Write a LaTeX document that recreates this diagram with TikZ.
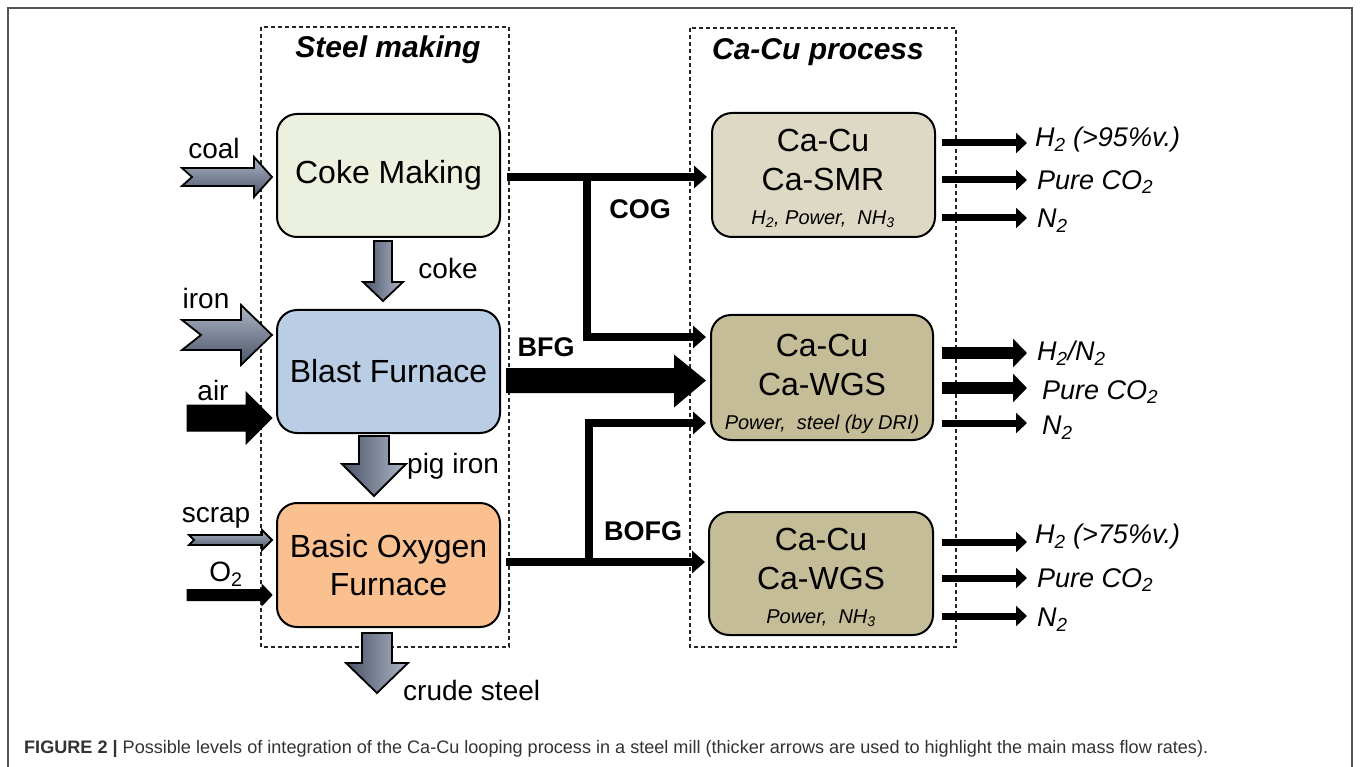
\documentclass[tikz,border=0pt]{standalone}
\usepackage{fontspec}
\usepackage{graphicx}
\setmainfont{Liberation Sans}
\usetikzlibrary{arrows.meta,calc}
\definecolor{cmfill}{HTML}{EBF1DE}
\definecolor{bffill}{HTML}{B9CDE5}
\definecolor{boffill}{HTML}{FAC090}
\definecolor{smrfill}{HTML}{DDD9C4}
\definecolor{wgsfill}{HTML}{C4BD97}
\definecolor{arrdark}{HTML}{4A5468}
\definecolor{arrlight}{HTML}{AEB6C6}
\definecolor{captext}{HTML}{333333}
\definecolor{framegray}{HTML}{555555}
% horizontal chevron arrow: style, tip, total length, notch, head length, half shaft, half head
\newcommand{\chevR}[7]{%
  \path[#1] ($(#2)+(-#3,-#6)$) -- ($(#2)+(-#5,-#6)$) -- ($(#2)+(-#5,-#7)$) -- (#2)
    -- ($(#2)+(-#5,#7)$) -- ($(#2)+(-#5,#6)$) -- ($(#2)+(-#3,#6)$) -- ($(#2)+(-#3+#4,0)$) -- cycle;}
% downward block arrow: style, tip, total length, head length, half shaft, half head
\newcommand{\blkdown}[6]{%
  \path[#1] ($(#2)+(-#5,-#3)$) -- ($(#2)+(#5,-#3)$) -- ($(#2)+(#5,-#4)$) -- ($(#2)+(#6,-#4)$) -- (#2)
    -- ($(#2)+(-#6,-#4)$) -- ($(#2)+(-#5,-#4)$) -- cycle;}
\tikzset{
  proc/.style={draw=black, line width=2pt, rounded corners=20pt, inner sep=0pt,
    font=\fontsize{32}{38}\selectfont, align=center},
  bigtxt/.style={font=\fontsize{32}{38}\selectfont, inner sep=0pt},
  subtxt/.style={font=\itshape\fontsize{20}{24}\selectfont, inner sep=0pt},
  lab/.style={font=\fontsize{28}{32}\selectfont, inner sep=0pt},
  gas/.style={font=\bfseries\fontsize{27}{30}\selectfont, inner sep=0pt},
  outlab/.style={font=\itshape\fontsize{27}{30}\selectfont, anchor=west, inner sep=0pt},
  ttl/.style={font=\bfseries\itshape\fontsize{30}{33}\selectfont, inner sep=0pt},
  zone/.style={draw=black!85, line width=1.2pt, dash pattern=on 4pt off 3pt},
  flow/.style={draw=black, line width=8pt, -{Triangle[length=13pt,width=22pt]}},
  outthin/.style={draw=black, line width=7pt, -{Triangle[length=11pt,width=20pt]}},
  outthick/.style={draw=black, line width=12pt, -{Triangle[length=14pt,width=28pt]}},
  hgrad/.style={draw=black, line width=1.8pt, top color=arrlight, bottom color=arrdark},
  vgrad/.style={draw=black, line width=1.8pt, left color=arrdark, right color=arrlight},
  solidarr/.style={fill=black, draw=black, line width=1pt},
}
\begin{document}
\begin{tikzpicture}[x=1pt,y=-1pt]
\useasboundingbox (0,0) rectangle (1360,767);
\fill[white] (0,0) rectangle (1360,767);
% outer frame
\draw[framegray, line width=1.5pt] (8,800) -- (8,8) -- (1352,8) -- (1352,800);

% zones
\draw[zone] (261,27) rectangle (509,647);
\draw[zone] (690,28) rectangle (956,647);
\node[ttl] (t1) at (388,50) {Steel making};
\node[ttl] (t2) at (818,52) {Ca-Cu process};

% steel making boxes
\node[proc, fill=cmfill, minimum width=223pt, minimum height=123pt] (cm) at (388.5,175.5) {Coke Making};
\node[proc, fill=bffill, minimum width=223pt, minimum height=123pt] (bf) at (388.5,371.5) {Blast Furnace};
\node[proc, fill=boffill, minimum width=223pt, minimum height=124pt] (bof) at (388.5,565) {Basic Oxygen\\Furnace};

% Ca-Cu boxes
\node[proc, fill=smrfill, minimum width=223pt, minimum height=124pt] (smr) at (823.5,175) {};
\node[proc, fill=wgsfill, minimum width=222pt, minimum height=125pt] (wgs1) at (822,377.5) {};
\node[proc, fill=wgsfill, minimum width=224pt, minimum height=123pt] (wgs2) at (821,573.5) {};

\node[bigtxt] (smrA) at (823,140) {Ca-Cu};
\node[bigtxt] (smrB) at (823,179) {Ca-SMR};
\node[subtxt] (smrC) at (823,219) {H\textsubscript{2}, Power,\ \ NH\textsubscript{3}};
\node[bigtxt] (w1A) at (822,345) {Ca-Cu};
\node[bigtxt] (w1B) at (822,384) {Ca-WGS};
\node[subtxt] (w1C) at (822,424) {Power,\ \ steel (by DRI)};
\node[bigtxt] (w2A) at (821,539) {Ca-Cu};
\node[bigtxt] (w2B) at (821,578) {Ca-WGS};
\node[subtxt] (w2C) at (821,618) {Power,\ \ NH\textsubscript{3}};

% input arrows
\coordinate (coalT) at ($(cm.west)+(-4,1.5)$);
\coordinate (ironT) at ($(bf.west)+(-4,-36.5)$);
\coordinate (airT) at ($(bf.west)+(-4,46.5)$);
\coordinate (scrapT) at ($(bof.west)+(-4,-25)$);
\coordinate (oxT) at ($(bof.west)+(-4,30)$);
\chevR{hgrad}{coalT}{90}{10}{18}{9}{20}
\chevR{hgrad}{ironT}{90}{19}{31}{15}{30}
\chevR{solidarr}{airT}{85}{0}{26}{13}{26}
\chevR{hgrad}{scrapT}{83}{5}{10}{5}{10}
\chevR{solidarr}{oxT}{85}{0}{10}{5.5}{10.5}
\node[lab] (lcoal) at (214,148) {coal};
\node[lab] (liron) at (206,298) {iron};
\node[lab] (lair) at (213,390) {air};
\node[lab] (lscrap) at (216,518) {scrap};
\node[lab] (lox) at (226,574) {O\textsubscript{2}};

% down arrows
\coordinate (cokeT) at ($(bf.north)+(-5.5,-8)$);
\coordinate (pigT) at ($(bof.north)+(-14.5,-6)$);
\coordinate (crudeT) at ($(bof.south)+(-11.5,65)$);
\blkdown{vgrad}{cokeT}{60}{19}{9}{20}
\blkdown{vgrad}{pigT}{60}{32}{15}{32}
\blkdown{vgrad}{crudeT}{60}{30}{15}{31}
\node[lab] (lcoke) at (448,268) {coke};
\node[lab, anchor=west] (lpig) at (407,466) {pig iron};
\node[lab, anchor=west] (lcrude) at (403,690) {crude steel};

% COG
\coordinate (cogS) at ($(cm.east)+(6,1.5)$);
\coordinate (cogJ) at (587,177);
\coordinate (cogL) at (587,337);
\draw[flow] (cogS) -- ($(smr.west|-cogS)+(-4,0)$);
\draw[flow] ($(cogJ)+(0,-4)$) -- (cogL) -- ($(wgs1.west|-cogL)+(-4,0)$);
\node[gas] (lcog) at (640,209) {COG};

% BFG
\coordinate (bfgS) at ($(bf.east)+(5,9)$);
\path[fill=black] ($(bfgS)+(0,-12.5)$) -- ($(bfgS)+(168,-12.5)$) -- ($(bfgS)+(168,-26)$)
  -- ($(wgs1.west|-bfgS)+(-4,0)$) -- ($(bfgS)+(168,27)$) -- ($(bfgS)+(168,12.5)$) -- ($(bfgS)+(0,12.5)$) -- cycle;
\node[gas] (lbfg) at (546,347) {BFG};

% BOFG
\coordinate (bofgS) at (506,562);
\coordinate (bofgJ) at (589,562);
\coordinate (bofgU) at (589,423);
\draw[flow] (bofgS) -- ($(wgs2.west|-bofgS)+(-3,0)$);
\draw[flow] ($(bofgJ)+(0,4)$) -- (bofgU) -- ($(wgs1.west|-bofgU)+(-4,0)$);
\node[gas] (lbofg) at (643,531) {BOFG};

% outputs: SMR
\coordinate (o1a) at (942,143); \coordinate (e1a) at (1027,143);
\coordinate (o1b) at (942,180); \coordinate (e1b) at (1027,180);
\coordinate (o1c) at (942,218); \coordinate (e1c) at (1027,218);
\draw[outthin] (o1a) -- (e1a);
\draw[outthin] (o1b) -- (e1b);
\draw[outthin] (o1c) -- (e1c);
\node[outlab] (n1a) at (1035,140) {H\textsubscript{2} (>95\%v.)};
\node[outlab] (n1b) at (1037,182) {Pure CO\textsubscript{2}};
\node[outlab] (n1c) at (1037,221) {N\textsubscript{2}};

% outputs: WGS 1
\coordinate (o2a) at (942,353); \coordinate (e2a) at (1027,353);
\coordinate (o2b) at (942,388); \coordinate (e2b) at (1027,388);
\coordinate (o2c) at (942,423); \coordinate (e2c) at (1027,423);
\draw[outthick] (o2a) -- (e2a);
\draw[outthick] (o2b) -- (e2b);
\draw[outthin] (o2c) -- (e2c);
\node[outlab] (n2a) at (1037,353) {H\textsubscript{2}/N\textsubscript{2}};
\node[outlab] (n2b) at (1042,392) {Pure CO\textsubscript{2}};
\node[outlab] (n2c) at (1042,428) {N\textsubscript{2}};

% outputs: WGS 2
\coordinate (o3a) at (942,542); \coordinate (e3a) at (1027,542);
\coordinate (o3b) at (942,578); \coordinate (e3b) at (1027,578);
\coordinate (o3c) at (942,616); \coordinate (e3c) at (1027,616);
\draw[outthin] (o3a) -- (e3a);
\draw[outthin] (o3b) -- (e3b);
\draw[outthin] (o3c) -- (e3c);
\node[outlab] (n3a) at (1035,537) {H\textsubscript{2} (>75\%v.)};
\node[outlab] (n3b) at (1037,580) {Pure CO\textsubscript{2}};
\node[outlab] (n3c) at (1037,620) {N\textsubscript{2}};

% caption
\node[anchor=west, inner sep=0pt, text=captext] (cap) at (24,749)
  {\resizebox{1184pt}{!}{\fontsize{17}{20}\selectfont\textbf{FIGURE 2 |} Possible levels of integration of the Ca-Cu looping process in a steel mill (thicker arrows are used to highlight the main mass flow rates).}};
\end{tikzpicture}
\end{document}
